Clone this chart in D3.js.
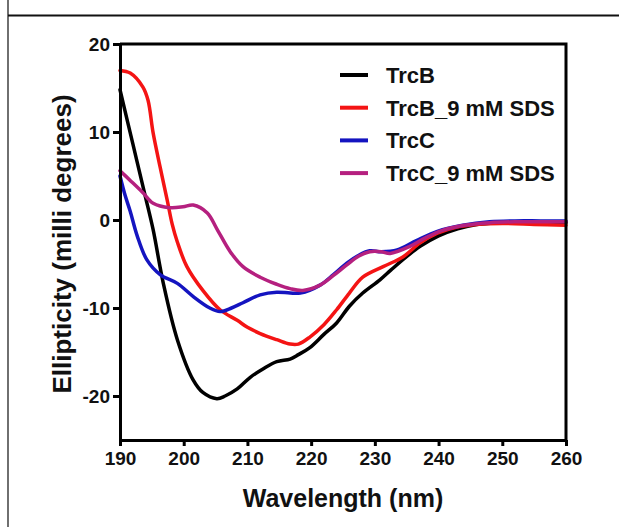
<!DOCTYPE html>
<meta charset="utf-8">
<style>
body { margin: 0; background: #fff; }
text { font-family: "Liberation Sans", Arial, sans-serif; font-weight: bold; fill: #111; }
.series { fill: none; stroke-width: 3.5px; stroke-linejoin: round; stroke-linecap: round; }
</style>
<svg width="619" height="527"></svg>
<script src="https://d3js.org/d3.v7.min.js"></script>
<script>

// series: wavelength (nm) and ellipticity (mdeg)
var trcB_wl  = [190, 192, 194, 195.2, 196.8, 199, 201.5, 203, 205.2, 206.5, 208.4, 210.4, 212.5, 214.6, 216.7, 218, 219.8, 222, 224, 226, 228.1, 230.8, 232.5, 234.4, 237.1, 240, 243, 246, 250, 255, 260];
var trcB_val = [14.8, 8.7, 2.6, -1.1, -7.2, -13.6, -18.2, -19.6, -20.3, -20.0, -19.2, -17.9, -16.9, -16.1, -15.8, -15.3, -14.5, -13.0, -11.7, -9.8, -8.3, -6.8, -5.7, -4.5, -3.0, -1.8, -1.0, -0.5, -0.3, -0.2, -0.3];

var trcBsds_wl  = [190, 191.6, 193.6, 194.4, 195.2, 196.3, 197.4, 198.2, 199, 200.5, 203, 205.7, 208.4, 210, 212, 214.6, 216.7, 218, 219.8, 222, 224, 226, 228.1, 231.3, 234.4, 237.1, 239.8, 242.9, 246, 250, 255, 260];
var trcBsds_val = [17.0, 16.7, 15.1, 13.6, 9.9, 6.0, 2.3, -0.5, -2.5, -5.3, -8.0, -10.2, -11.4, -12.2, -12.9, -13.6, -14.1, -14.1, -13.3, -11.9, -10.2, -8.3, -6.5, -5.3, -4.2, -2.6, -1.5, -0.8, -0.5, -0.4, -0.5, -0.6];

var trcC_wl  = [190, 190.8, 191.6, 192.7, 194.2, 196.3, 199, 201.5, 204.1, 205.7, 207.5, 209.3, 212, 214.6, 216.7, 218.3, 221.4, 223.5, 225.6, 227.5, 229.2, 231, 233.5, 236.6, 239.8, 243.8, 248, 252, 256, 260];
var trcC_val = [5.0, 2.8, 1.0, -1.8, -4.5, -6.2, -7.2, -8.7, -10.0, -10.4, -10.0, -9.4, -8.5, -8.2, -8.3, -8.3, -7.4, -6.2, -4.9, -4.0, -3.5, -3.6, -3.4, -2.3, -1.3, -0.6, -0.2, -0.1, -0.1, -0.1];

var trcCsds_wl  = [190, 191.6, 193.6, 195.2, 197.8, 199.9, 201.5, 203.7, 205.2, 207.3, 209.3, 212, 214.6, 216.7, 218.7, 221.4, 223.5, 225.6, 227.5, 229.2, 231, 232.4, 235.5, 238, 240.5, 244, 248, 252, 256, 260];
var trcCsds_val = [5.6, 4.5, 3.1, 1.9, 1.4, 1.5, 1.7, 0.8, -1.0, -3.6, -5.3, -6.5, -7.3, -7.8, -8.0, -7.4, -6.3, -5.1, -4.1, -3.6, -3.6, -3.8, -3.0, -2.0, -1.2, -0.6, -0.3, -0.2, -0.2, -0.2];

var seriesNames  = ["TrcB", "TrcB_9 mM SDS", "TrcC", "TrcC_9 mM SDS"];
var seriesColors = ["#000000", "#f41414", "#1414c0", "#b5207f"];
var xTicks = [190, 200, 210, 220, 230, 240, 250, 260];
var yTicks = [-20, -10, 0, 10, 20];

var seriesData = [
  d3.zip(trcB_wl, trcB_val),
  d3.zip(trcBsds_wl, trcBsds_val),
  d3.zip(trcC_wl, trcC_val),
  d3.zip(trcCsds_wl, trcCsds_val)
];

var svg = d3.select("svg");

// outer page lines
svg.append("line").attr("x1", 8).attr("x2", 8).attr("y1", 0).attr("y2", 527)
  .attr("stroke", "#222").attr("stroke-width", 1.3);
svg.append("line").attr("x1", 8).attr("x2", 619).attr("y1", 15.5).attr("y2", 15.5)
  .attr("stroke", "#111").attr("stroke-width", 2.2);

var x = d3.scaleLinear().domain([190, 260]).range([120, 566]);
var y = d3.scaleLinear().domain([-25, 20]).range([440, 44]);

var line = d3.line()
  .x(function(d) { return x(d[0]); })
  .y(function(d) { return y(d[1]); })
  .curve(d3.curveCatmullRom.alpha(0.5));

svg.append("g").selectAll("path")
  .data(seriesData)
  .enter().append("path")
  .attr("class", "series")
  .attr("stroke", function(d, i) { return seriesColors[i]; })
  .attr("d", line);

// frame top and right
svg.append("path")
  .attr("d", "M" + x(190) + "," + y(20) + "H" + x(260) + "V" + y(-25))
  .attr("fill", "none").attr("stroke", "#000").attr("stroke-width", 3);

var plainNum = function(d) { return String(d); };

var xAxis = svg.append("g")
  .attr("transform", "translate(0," + y(-25) + ")")
  .call(d3.axisBottom(x).tickValues(xTicks).tickFormat(plainNum).tickSize(6).tickPadding(6).tickSizeOuter(0));
xAxis.select(".domain").attr("stroke-width", 3);
xAxis.selectAll(".tick line").attr("stroke-width", 3);
xAxis.selectAll(".tick text").attr("font-size", 19).attr("fill", "#111")
  .style("font-family", "'Liberation Sans', Arial, sans-serif").style("font-weight", "bold");

var yAxis = svg.append("g")
  .attr("transform", "translate(" + x(190) + ",0)")
  .call(d3.axisLeft(y).tickValues(yTicks).tickFormat(plainNum).tickSize(7).tickPadding(3).tickSizeOuter(0));
yAxis.select(".domain").attr("stroke-width", 3);
yAxis.selectAll(".tick line").attr("stroke-width", 3);
yAxis.selectAll(".tick text").attr("font-size", 19).attr("fill", "#111")
  .style("font-family", "'Liberation Sans', Arial, sans-serif").style("font-weight", "bold");

svg.append("text")
  .attr("x", (x(190) + x(260)) / 2).attr("y", 507)
  .attr("text-anchor", "middle").attr("font-size", 25)
  .text("Wavelength (nm)");

svg.append("text")
  .attr("transform", "translate(71," + 244 + ") rotate(-90)")
  .attr("text-anchor", "middle").attr("font-size", 26)
  .text("Ellipticity (milli degrees)");

// legend
var legend = svg.append("g").selectAll("g")
  .data(seriesNames)
  .enter().append("g")
  .attr("transform", function(d, i) { return "translate(0," + (75 + i * 32.7) + ")"; });
legend.append("line")
  .attr("x1", 340).attr("x2", 368)
  .attr("stroke", function(d, i) { return seriesColors[i]; })
  .attr("stroke-width", 4);
legend.append("text")
  .attr("x", 386).attr("y", 8)
  .attr("font-size", 22)
  .text(function(d) { return d; });

</script>
